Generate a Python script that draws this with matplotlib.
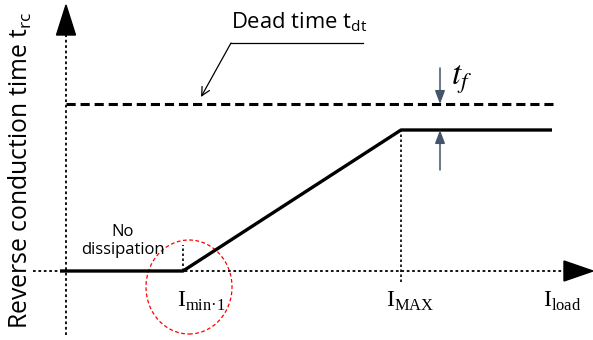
import matplotlib
matplotlib.use('Agg')
import matplotlib.pyplot as plt
from matplotlib.patches import Ellipse, Polygon

# schematic values (arbitrary current / time units)
trc_current = [60, 183, 401, 552]
trc_time = [69, 69, 210, 210]
dead_time = 236
dead_time_span = [66, 553]
i_min, i_max = 183, 401
axis_x0, axis_y0 = 66, 69
tick_labels = [r'I$_{\mathregular{min·1}}$', r'I$_{\mathregular{MAX}}$',
               r'I$_{\mathregular{load}}$']
tick_label_x = [177, 386, 543]

fig = plt.figure(figsize=(5.93, 3.40), dpi=100)
ax = fig.add_axes([0, 0, 1, 1])
ax.set_xlim(0, 593)
ax.set_ylim(0, 340)
ax.axis('off')

dot = (0, (1.5, 1.5))
# axes (dotted) with filled arrowheads
ax.plot([axis_x0, axis_x0], [5, 306], color='black', lw=1.3, ls=dot)
ax.plot([33, 565], [axis_y0, axis_y0], color='black', lw=1.3, ls=dot)
ax.add_patch(Polygon([[axis_x0 - 9.5, 305], [axis_x0 + 9.5, 305], [axis_x0, 335]],
                     closed=True, color='black'))
ax.add_patch(Polygon([[564, axis_y0 + 10], [564, axis_y0 - 10], [593, axis_y0]],
                     closed=True, color='black'))

# reverse conduction time curve
ax.plot(trc_current, trc_time, color='black', lw=2.4, solid_capstyle='butt')
# dead time
ax.plot(dead_time_span, [dead_time, dead_time], color='black', lw=2.2,
        ls=(0, (3, 1.6)))

# markers at Imin and IMAX
ax.plot([i_min, i_min], [axis_y0, 95], color='black', lw=1.2, ls=dot)
ax.plot([i_max, i_max], [58, trc_time[-1]], color='black', lw=1.2, ls=dot)

ax.add_patch(Ellipse((189, 53), 86, 94, fill=False, edgecolor='red', lw=0.9,
                     ls=(0, (3, 2))))

# t_f arrows
arrow_col = '#44546A'
ax.annotate('', xy=(440, dead_time), xytext=(440, 272),
            arrowprops=dict(arrowstyle='-|>,head_width=0.3,head_length=0.8',
                            color=arrow_col, lw=1.1, shrinkA=0, shrinkB=0))
ax.annotate('', xy=(440, trc_time[-1]), xytext=(440, 170),
            arrowprops=dict(arrowstyle='-|>,head_width=0.3,head_length=0.8',
                            color=arrow_col, lw=1.1, shrinkA=0, shrinkB=0))
ax.text(451, 261, r'$t_f$', fontsize=24, math_fontfamily='stix',
        ha='left', va='center')

# dead time label and leader
ax.plot([363, 231], [297, 297], color='black', lw=0.9)
ax.annotate('', xy=(201, 243), xytext=(231, 297),
            arrowprops=dict(arrowstyle='->,head_width=0.3,head_length=0.6',
                            color='black', lw=0.9, shrinkA=0, shrinkB=0))
ax.text(231, 318, r'Dead time t$_{\mathregular{dt}}$', fontsize=15.8,
        family='Open Sans', ha='left', va='center')

ax.text(123, 99, 'No\ndissipation', fontsize=12, family='Open Sans',
        ha='center', va='center', linespacing=1.25)

ax.text(20, 170, r'Reverse conduction time t$_{\mathregular{rc}}$', fontsize=17.8,
        family='Open Sans', rotation=90, ha='center', va='center')

for x, lab in zip(tick_label_x, tick_labels):
    ax.text(x, 33, lab, fontsize=17, family='Liberation Serif',
            ha='left', va='baseline')

fig.savefig('out.png', dpi=100)
